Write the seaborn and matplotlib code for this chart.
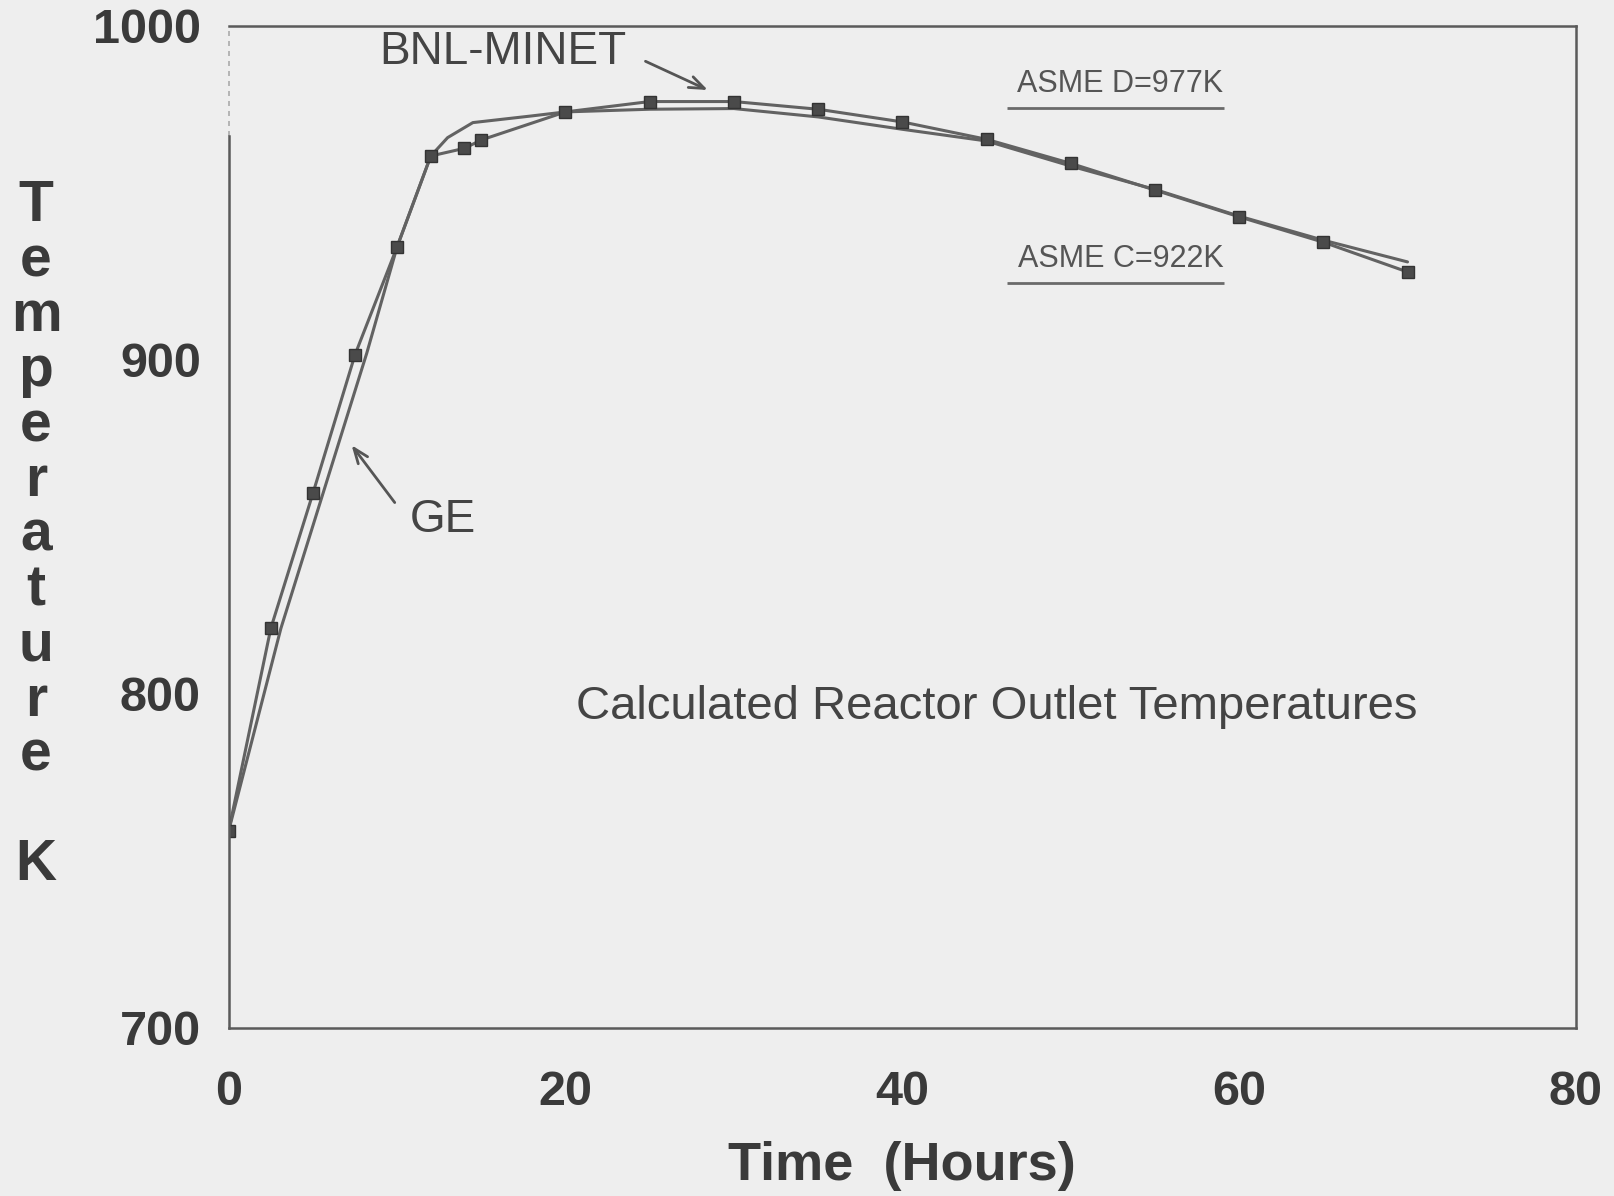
import matplotlib
matplotlib.use("Agg")
import matplotlib.pyplot as plt
import seaborn as sns
import pandas as pd

# ---- data ----
time_bnl = [0, 2.5, 5, 7.5, 10, 12, 14, 15, 20, 25, 30, 35, 40, 45, 50, 55, 60, 65, 70]
temp_bnl = [759, 819.6, 860, 901.5, 933.8, 961, 963.3, 965.8, 974.2, 977.3, 977.3,
            975, 971.2, 966, 958.8, 950.8, 942.8, 935.2, 926.3]

time_ge = [0, 3.1, 5.6, 8.2, 10, 12, 13, 14.5, 18, 20, 25, 30, 35, 40, 45, 50, 55, 60, 65, 70]
temp_ge = [759, 819.6, 860, 902, 933.8, 961, 966.5, 971, 973, 974.2, 975, 975.2,
           972.7, 969, 965.5, 958, 951, 943, 935.8, 929.3]

asme_labels = ["ASME D=977K", "ASME C=922K"]
asme_levels = [975.5, 923]
asme_span = [46.2, 59.1]

x_ticks = [0, 20, 40, 60, 80]
y_ticks = [700, 800, 900, 1000]
ylabel_letters = ["T", "e", "m", "p", "e", "r", "a", "t", "u", "r", "e", "", "K"]

title_text = "Calculated Reactor Outlet Temperatures"
xlabel_text = "Time  (Hours)"

# ---- style ----
sns.set_theme(style="white")
plt.rcParams["font.family"] = ["Liberation Sans", "DejaVu Sans"]

BG = "#eeeeee"
LINE = "#626262"
TXT = "#3a3a3a"

fig = plt.figure(figsize=(16.15, 11.96), dpi=100, facecolor=BG)
ax = fig.add_axes([0.1416, 0.1405, 0.9758 - 0.1416, 0.9785 - 0.1405])
ax.set_facecolor(BG)

df_bnl = pd.DataFrame({"time": time_bnl, "temp": temp_bnl})
df_ge = pd.DataFrame({"time": time_ge, "temp": temp_ge})

sns.lineplot(data=df_ge, x="time", y="temp", ax=ax, color=LINE, lw=2.2,
             legend=False, sort=False)
sns.lineplot(data=df_bnl, x="time", y="temp", ax=ax, color=LINE, lw=2.2,
             marker="s", markersize=9, markerfacecolor="#4a4a4a",
             markeredgecolor="#333333", markeredgewidth=1, legend=False, sort=False)

# ASME reference levels with labels
for lab, lev in zip(asme_labels, asme_levels):
    ax.hlines(lev, asme_span[0], asme_span[1], color="#6a6a6a", lw=2)
    ax.text((asme_span[0] + asme_span[1]) / 2 + 0.3, lev + 7.2, lab, ha="center",
            va="center", fontsize=22, color="#555555")

# annotations
ax.annotate("", xy=(28.6, 980.4), xytext=(24.6, 989.7),
            arrowprops=dict(arrowstyle="->,head_length=0.9,head_width=0.35",
                            color="#555555", lw=2))
ax.text(16.27, 992.2, "BNL-MINET", ha="center", va="center", fontsize=33, color="#444444")
ax.annotate("", xy=(7.2, 875.1), xytext=(9.96, 856.6),
            arrowprops=dict(arrowstyle="->,head_length=0.9,head_width=0.35",
                            color="#555555", lw=2))
ax.text(12.7, 852, "GE", ha="center", va="center", fontsize=33, color="#444444")

ax.text(45.6, 796, title_text, ha="center", va="center", fontsize=34, color="#444444")

# axes
ax.set_xlim(0, 80)
ax.set_ylim(700, 1000)
ax.set_xticks(x_ticks)
ax.set_yticks(y_ticks)
ax.set_xticklabels([str(v) for v in x_ticks], fontsize=35, fontweight="bold", color=TXT)
ax.set_yticklabels([str(v) for v in y_ticks], fontsize=35, fontweight="bold", color=TXT)
ax.tick_params(axis="both", direction="out", length=11, width=1.6, color="#555555")
ax.tick_params(axis="y", pad=9)
ax.tick_params(axis="x", pad=19)
ax.set_xlabel(xlabel_text, fontsize=39, fontweight="bold", color=TXT, labelpad=19)
ax.set_ylabel("")

for side in ["left", "right", "top", "bottom"]:
    ax.spines[side].set_visible(True)
    ax.spines[side].set_color("#5a5a5a")
    ax.spines[side].set_linewidth(1.8)
ax.spines["left"].set_bounds(700, 967)
ax.axvline(0, ymin=(967 - 700) / 300, ymax=1, color="#aaaaaa", lw=1.2,
           ls=(0, (3, 3)), clip_on=False)

# vertical stacked y-label
W, H = 1615, 1196
base0 = 221.4
pitch = 54.9
for i, ch in enumerate(ylabel_letters):
    if ch:
        fig.text(36 / W, 1 - (base0 + i * pitch) / H, ch, ha="center", va="baseline",
                 fontsize=41, fontweight="bold", color=TXT)

fig.savefig("out.png", dpi=100, facecolor=BG)
